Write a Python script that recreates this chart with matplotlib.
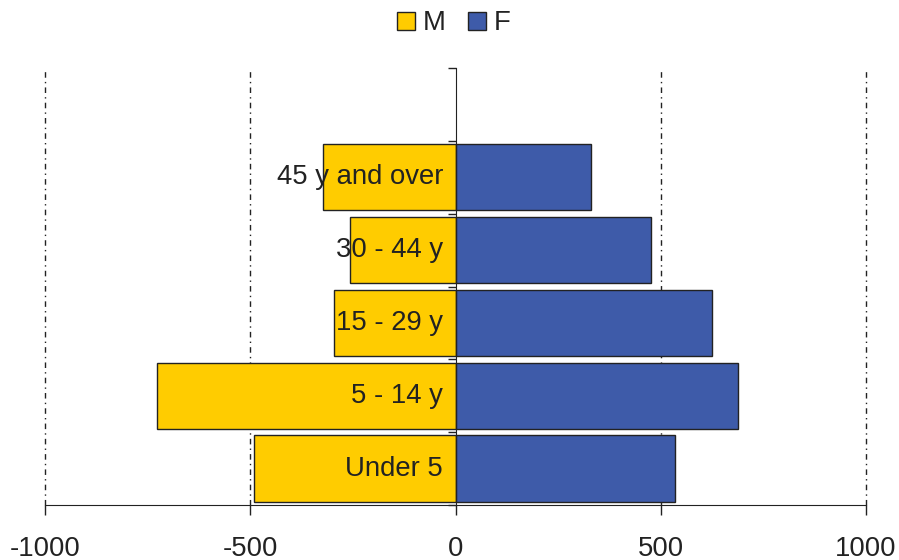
import numpy as np
from matplotlib import pyplot as plt

plt.rcParams['font.family'] = ['Liberation Sans', 'DejaVu Sans']

# age groups, bottom to top
groups = ['Under 5', '5 - 14 y', '15 - 29 y', '30 - 44 y', '45 y and over']
male = [490, 728, 295, 258, 322]
female = [534, 689, 624, 477, 331]
xticks = [-1000, -500, 0, 500, 1000]

yellow = '#FFCC00'
blue = '#3E5BA9'
edge = '#222222'
txt = '#222222'

fig = plt.figure(figsize=(8.99, 5.6), dpi=100, facecolor='w')
ax = fig.add_axes([45 / 899, 55 / 560, 821 / 899, 437 / 560])

y = np.arange(len(groups))
ax.barh(y, -np.array(male), height=0.91, color=yellow, edgecolor=edge, lw=1, label='M', zorder=2)
ax.barh(y, female, height=0.91, color=blue, edgecolor=edge, lw=1, label='F', zorder=2)

for yi, g in zip(y, groups):
    ax.annotate(g, xy=(0, yi), xytext=(-9, 0), textcoords='offset points',
                ha='right', va='center', fontsize=19.8, color=txt, zorder=3)

ax.set_xlim(-1000, 1000)
ax.set_ylim(-0.5, 5.5)
ax.set_xticks(xticks)
ax.set_xticklabels([str(v) for v in xticks], fontsize=19.8, color=txt)
ax.tick_params(axis='x', direction='out', length=7, width=1, color=edge, pad=15)

ax.set_yticks(np.arange(-0.5, 6, 1))
ax.set_yticklabels([])
ax.tick_params(axis='y', direction='out', length=6, width=1, color=edge)

ax.spines['left'].set_position(('data', 0))
ax.spines['left'].set_color(edge)
ax.spines['bottom'].set_color(edge)
ax.spines['top'].set_visible(False)
ax.spines['right'].set_visible(False)
for s in ax.spines.values():
    s.set_zorder(4)

for v in [-1000, -500, 500, 1000]:
    ax.axvline(v, color=edge, lw=1, ls=(0, (4, 3, 1, 3)), zorder=1, clip_on=False)

leg = fig.legend(loc='upper center', bbox_to_anchor=(0.505, 1.001), ncol=2, frameon=False,
                 fontsize=19.8, handlelength=0.65, handleheight=0.65, handletextpad=0.3,
                 columnspacing=0.8, borderaxespad=0.0)
for t in leg.get_texts():
    t.set_color(txt)

fig.savefig('out.png', dpi=100)
